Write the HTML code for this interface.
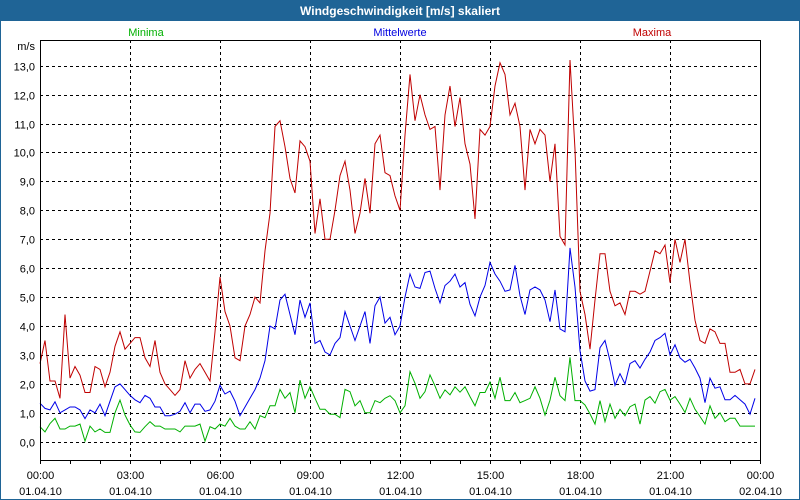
<!DOCTYPE html>
<html><head><meta charset="utf-8"><style>
body{margin:0;background:#fff;}
#wrap{position:relative;width:800px;height:500px;overflow:hidden;}
text{font-family:"Liberation Sans","DejaVu Sans",sans-serif;}
</style></head><body>
<div id="wrap">
<svg id="chart" width="800" height="500" xmlns="http://www.w3.org/2000/svg">
<rect x="0" y="0" width="800" height="500" fill="#fff"/>
<rect x="0.5" y="0.5" width="799" height="499" fill="none" stroke="#1f6496"/>
<rect x="0" y="0" width="800" height="21" fill="#1f6496"/>
<text x="400" y="15" text-anchor="middle" fill="#fff" font-size="12" font-weight="bold">Windgeschwindigkeit [m/s] skaliert</text>
<text x="146" y="36" text-anchor="middle" fill="#00b000" font-size="11">Minima</text>
<text x="400" y="36" text-anchor="middle" fill="#0000e0" font-size="11">Mittelwerte</text>
<text x="652" y="36" text-anchor="middle" fill="#c00000" font-size="11">Maxima</text>
<text x="35" y="50" text-anchor="end" fill="#000" font-size="11">m/s</text>
<g id="grid"></g><g id="series"></g><g id="axes"></g>
</svg></div>
<script>
const yTicks=[0,1,2,3,4,5,6,7,8,9,10,11,12,13];
const xTickHours=[0,3,6,9,12,15,18,21,24];
const xTimeLabels=["00:00","03:00","06:00","09:00","12:00","15:00","18:00","21:00","00:00"];
const xDateLabels=["01.04.10","01.04.10","01.04.10","01.04.10","01.04.10","01.04.10","01.04.10","01.04.10","02.04.10"];
const stepMinutes=10;
const maxima=[2.7,3.5,2.1,2.1,1.5,4.4,2.2,2.6,2.3,1.7,1.7,2.6,2.5,1.9,2.4,3.3,3.8,3.2,3.4,3.6,3.6,2.9,2.6,3.5,2.4,2.0,1.8,1.6,1.8,2.8,2.2,2.5,2.7,2.4,2.1,3.8,5.7,4.5,4.0,2.9,2.8,4.0,4.4,5.0,4.8,6.6,7.9,10.9,11.1,10.2,9.1,8.6,10.4,10.2,9.7,7.2,8.4,7.0,7.0,8.0,9.2,9.7,8.7,7.2,7.9,9.1,7.9,10.3,10.6,9.3,9.2,8.5,8.0,10.6,12.7,11.1,12.0,11.3,10.8,10.9,8.7,11.3,12.3,10.9,11.9,10.3,9.6,7.7,10.8,10.6,10.9,12.3,13.1,12.7,11.3,11.7,10.9,8.7,10.8,10.3,10.8,10.6,9.0,10.3,7.1,6.8,13.2,10.1,5.2,4.4,3.2,4.9,6.5,6.5,5.2,4.7,4.8,4.4,5.2,5.2,5.1,5.2,5.9,6.6,6.5,6.8,5.5,7.0,6.2,7.0,5.5,4.2,3.5,3.4,3.9,3.8,3.4,3.4,2.4,2.4,2.5,2.0,2.0,2.5];
const mittel=[1.33,1.15,1.1,1.38,1.0,1.1,1.2,1.2,1.1,0.8,1.1,1.0,1.3,0.9,1.4,1.9,2.0,1.8,1.6,1.45,1.35,1.6,1.5,1.2,1.2,0.9,0.9,0.95,1.05,1.35,1.0,1.3,1.3,1.05,1.1,1.4,1.95,1.65,1.75,1.4,0.9,1.2,1.5,1.8,2.2,2.8,4.0,3.9,4.9,5.1,4.4,3.7,4.9,4.3,4.8,3.4,3.5,3.1,3.0,3.4,3.6,4.5,4.0,3.5,4.0,4.5,3.4,4.7,5.0,4.1,4.3,3.7,4.0,5.0,5.8,5.35,5.3,5.85,5.9,5.3,4.8,5.4,5.55,5.8,5.35,5.5,4.75,4.35,5.0,5.4,6.2,5.8,5.55,5.2,5.25,6.1,5.05,4.4,5.25,5.35,5.25,4.9,4.15,5.25,3.9,3.8,6.7,5.35,3.15,2.1,1.75,1.8,3.25,3.5,2.8,1.95,2.35,2.0,2.7,2.8,2.55,2.85,3.1,3.5,3.6,3.75,3.0,3.35,2.9,2.75,2.85,2.55,2.2,1.35,2.2,1.85,1.9,1.45,1.45,1.6,1.45,1.3,0.95,1.5];
const minima=[0.52,0.34,0.63,0.81,0.44,0.44,0.54,0.54,0.61,0.02,0.54,0.34,0.44,0.32,0.32,1.0,1.44,0.92,0.58,0.34,0.32,0.52,0.69,0.54,0.54,0.44,0.44,0.44,0.34,0.54,0.54,0.54,0.61,0.02,0.52,0.44,0.61,0.54,0.81,0.54,0.44,0.44,0.69,0.44,0.9,0.83,1.24,1.24,1.81,1.5,1.7,1.0,2.13,1.5,1.9,1.5,1.12,1.12,0.95,0.95,0.83,1.81,1.73,1.24,1.42,1.0,1.0,1.42,1.35,1.5,1.59,1.42,1.0,1.24,2.42,2.02,1.5,1.73,2.31,1.93,1.5,1.79,1.62,1.9,1.71,1.9,1.56,1.24,1.7,1.7,2.06,1.5,2.23,1.42,1.42,1.7,1.35,1.42,1.5,1.9,1.5,0.92,1.44,2.23,1.59,1.42,2.92,1.42,1.42,1.27,0.96,0.61,1.42,0.69,1.3,0.81,1.12,0.9,1.21,1.3,0.61,1.44,1.56,1.33,1.73,1.81,1.44,1.56,1.3,1.01,1.5,1.12,0.87,0.61,1.24,0.81,1.0,0.69,0.81,0.81,0.54,0.54,0.54,0.54];

const NS="http://www.w3.org/2000/svg";
const L=40,R=760,T=40,B=460;
const Y0=441.7,PX=28.92;
function yS(v){return Y0-v*PX;}
function xS(h){return L+h*(R-L)/24;}
function mk(tag,attrs,parent){const e=document.createElementNS(NS,tag);for(const k in attrs)e.setAttribute(k,attrs[k]);parent.appendChild(e);return e;}
const grid=document.getElementById('grid'),axes=document.getElementById('axes'),ser=document.getElementById('series');
yTicks.forEach(v=>{
  const y=Math.round(yS(v))+0.5;
  const g=mk('line',{x1:L,x2:R,y1:y,y2:y,stroke:'#000','stroke-dasharray':'3,3'},grid);
  
  
  const t=mk('text',{x:35,y:y+4,'text-anchor':'end','font-size':'11',fill:'#000'},axes);
  t.textContent=v.toFixed(1).replace('.',',');
  
  
});
xTickHours.forEach((h,i)=>{
  const x=Math.round(xS(h))+0.5;
  if(h>0&&h<24){
    const g=mk('line',{x1:x,x2:x,y1:T,y2:B,stroke:'#000','stroke-dasharray':'3,3'},grid);
    
    
  }
  const t1=mk('text',{x:x,y:479,'text-anchor':'middle','font-size':'11',fill:'#000'},axes);
  t1.textContent=xTimeLabels[i];
  
  
  const t2=mk('text',{x:x,y:495,'text-anchor':'middle','font-size':'11',fill:'#000'},axes);
  t2.textContent=xDateLabels[i];
  
  
});
for(let h=0;h<=24;h++){
  const x=Math.round(xS(h))+0.5;
  const tk=mk('line',{x1:x,x2:x,y1:B,y2:B+4,stroke:'#000'},axes);
  
  
}
const frame=mk('rect',{x:L+0.5,y:T+0.5,width:R-L,height:B-T,fill:'none',stroke:'#000'},axes);


function line(data,color,name){
  const pts=data.map((v,i)=>xS(i*stepMinutes/60).toFixed(1)+','+yS(v).toFixed(1)).join(' ');
  const p=mk('polyline',{points:pts,fill:'none',stroke:color,'stroke-width':'1','stroke-linejoin':'miter'},ser);
  
  
}
line(minima,'#00b000','minima-line');
line(mittel,'#0000e8','mittelwerte-line');
line(maxima,'#c00000','maxima-line');
</script>
</body></html>
